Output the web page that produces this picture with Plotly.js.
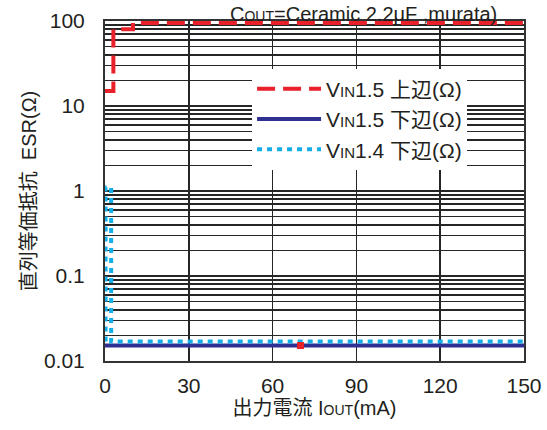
<!DOCTYPE html>
<html>
<head>
<meta charset="utf-8">
<script src="https://cdn.plot.ly/plotly-3.0.1.min.js"></script>
<style>html,body{margin:0;padding:0;background:#fff;}#chart{width:547px;height:430px;}</style>
</head>
<body>
<div id="chart"></div>
<script>
// Data
const seriesNames = [
  "V<span style='font-size:15px'>IN</span>1.5 上辺(Ω)",
  "V<span style='font-size:15px'>IN</span>1.5 下辺(Ω)",
  "V<span style='font-size:15px'>IN</span>1.4 下辺(Ω)"
];
const upper15X = [0, 3, 3, 10, 10, 150];
const upper15Y = [15, 15, 80, 80, 95, 95];
const lower15X = [0, 150];
const lower15Y = [0.0152, 0.0152];
const lower14X = [0.2, 0.2, 2.2, 2.2, 150];
const lower14Y = [0.017, 1.1, 1.1, 0.017, 0.017];
const markX = [70];
const markY = [0.0152];

const xTickVals = [0, 30, 60, 90, 120, 150];
const yTickVals = [0.01, 0.1, 1, 10, 100];
const yTickText = ["0.01", "0.1", "1", "10", "100"];
const minorDigits = [2, 3, 4, 5, 6, 7, 8, 9];

const yMinor = [];
yTickVals.slice(0, -1).forEach(d => minorDigits.forEach(m => yMinor.push(+(d * m).toPrecision(3))));

const FONT = "'Liberation Sans', Arial, 'Noto Sans CJK JP', sans-serif";
const GRID = "#262626";

const traces = [
  {x: upper15X, y: upper15Y, mode: "lines", name: seriesNames[0],
   line: {color: "#e8212b", width: 4, dash: "18px,8px"}},
  {x: lower15X, y: lower15Y, mode: "lines", name: seriesNames[1],
   line: {color: "#2e3192", width: 4}},
  {x: lower14X, y: lower14Y, mode: "lines", name: seriesNames[2],
   line: {color: "#13aee8", width: 4, dash: "5px,5px"}},
  {x: markX, y: markY, mode: "markers", showlegend: false,
   marker: {symbol: "square", size: 7, color: "#e8212b"}}
];

const layout = {
  width: 547, height: 430,
  margin: {l: 105, r: 23, t: 21, b: 69},
  paper_bgcolor: "#fff", plot_bgcolor: "#fff",
  font: {family: FONT, size: 20, color: "#231f20"},
  showlegend: true,
  legend: {x: 0.351, y: 0.86, xanchor: "left", yanchor: "top", itemwidth: 64,
           bgcolor: "#fff", borderwidth: 0, font: {size: 21, color: "#231f20"},
           tracegroupgap: 0},
  xaxis: {range: [0, 150], tickvals: xTickVals, showgrid: true, gridcolor: GRID, gridwidth: 1.5,
          zeroline: false, showline: true, linecolor: "#333", linewidth: 2, mirror: true,
          ticks: "", ticklabelstandoff: 5, tickfont: {size: 21},
          title: {text: "出力電流 I<span style='font-size:14px'>OUT</span>(mA)", font: {size: 20}, standoff: 4}},
  yaxis: {type: "log", range: [-2, 2], tickvals: yTickVals, ticktext: yTickText,
          showgrid: true, gridcolor: GRID, gridwidth: 1.5,
          minor: {tickvals: yMinor, showgrid: true, gridcolor: GRID, gridwidth: 1.5, ticks: ""},
          zeroline: false, showline: true, linecolor: "#333", linewidth: 2, mirror: true,
          ticks: "", ticklabelstandoff: 14, tickfont: {size: 21},
          title: {text: "直列等価抵抗  ESR(Ω)", font: {size: 20}, standoff: 2}},
  annotations: [{
    text: "C<span style='font-size:14px'>OUT</span>=Ceramic 2.2μF ,murata)",
    xref: "paper", yref: "paper", x: 0.94, y: 1.022, xanchor: "right", yanchor: "middle",
    showarrow: false, font: {size: 20, color: "#231f20"}
  }]
};

Plotly.newPlot("chart", traces, layout, {displayModeBar: false, staticPlot: true});
</script>
</body>
</html>
